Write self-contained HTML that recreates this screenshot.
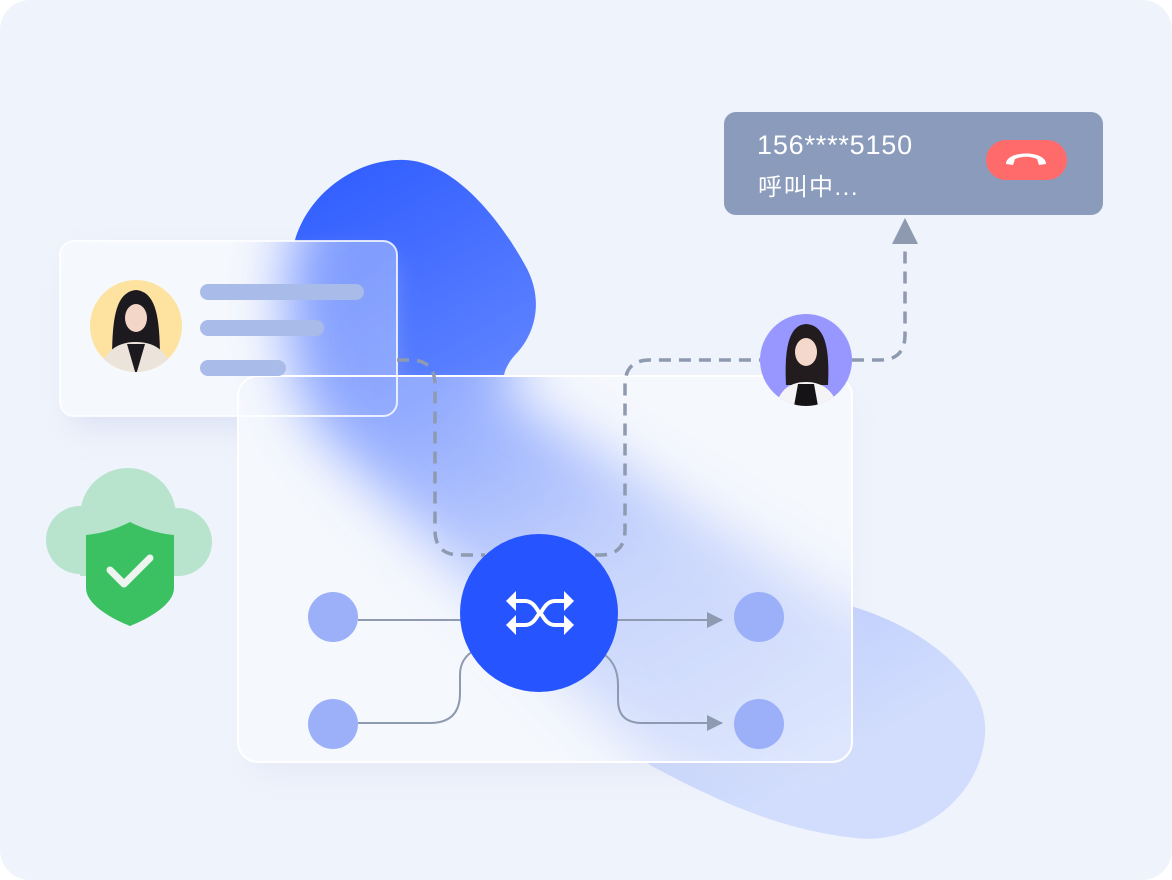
<!DOCTYPE html>
<html><head><meta charset="utf-8"><style>
html,body{margin:0;padding:0;background:#fff;}
svg{display:block;}
text{font-family:"Liberation Sans","Noto Sans CJK SC",sans-serif;}
</style></head><body>
<svg width="1172" height="880" viewBox="0 0 1172 880" xmlns="http://www.w3.org/2000/svg">
<defs>
<linearGradient id="bg1" x1="0" y1="0" x2="0.6" y2="1">
<stop offset="0" stop-color="#2c5aff"/><stop offset="0.35" stop-color="#5b80ff"/><stop offset="0.65" stop-color="#b0c2fc"/><stop offset="1" stop-color="#d2ddfd"/>
</linearGradient>
<filter id="blur" x="-30%" y="-30%" width="160%" height="160%"><feGaussianBlur stdDeviation="28"/></filter>
<filter id="sh" x="-20%" y="-20%" width="140%" height="150%"><feGaussianBlur stdDeviation="14"/></filter>
<clipPath id="cards">
<rect x="238" y="376" width="614" height="386" rx="20"/>
<rect x="60" y="241" width="337" height="175" rx="14"/>
</clipPath>
<path id="blob" d="M295,240 C310,190 360,158 405,160 C455,162 500,220 525,265 C545,300 535,335 515,355 C500,372 498,390 520,405 L840,603 C925,625 990,680 985,735 C980,800 915,845 855,838 C780,830 715,800 650,765 L320,430 C285,380 280,300 295,240 Z"/>
<marker id="ah" markerWidth="16" markerHeight="16" refX="15" refY="8" orient="auto" markerUnits="userSpaceOnUse"><path d="M0,0 L16,8 L0,16 Z" fill="#8d9ab0"/></marker>
</defs>
<rect x="0" y="0" width="1172" height="880" rx="30" fill="#eff3fb"/>
<use href="#blob" fill="url(#bg1)"/>
<rect x="70" y="258" width="320" height="170" rx="14" fill="#c8d2ee" opacity="0.5" filter="url(#sh)"/>
<rect x="250" y="395" width="600" height="380" rx="20" fill="#d6def2" opacity="0.4" filter="url(#sh)"/>
<g clip-path="url(#cards)">
<rect x="0" y="0" width="1172" height="880" fill="#f6f8fd"/>
<use href="#blob" fill="url(#bg1)" filter="url(#blur)" opacity="0.8"/>
<rect x="0" y="0" width="1172" height="880" fill="#f7f9fe" opacity="0.2"/>
</g>
<rect x="238" y="376" width="614" height="386" rx="20" fill="none" stroke="#ffffff" stroke-width="2"/>
<rect x="60" y="241" width="337" height="175" rx="14" fill="none" stroke="#ffffff" stroke-opacity="0.8" stroke-width="2"/>
<circle cx="136" cy="326" r="46" fill="#fde2a0"/>
<clipPath id="av1"><circle cx="136" cy="326" r="46"/></clipPath>
<g clip-path="url(#av1)">
<path d="M112,362 C112,320 115,292 136,290 C157,292 160,320 160,362 Z" fill="#1c1a1f"/>
<ellipse cx="136" cy="318" rx="11" ry="14" fill="#f3d6c8"/>
<path d="M98,375 C104,350 118,342 136,342 C154,342 168,350 174,375 Z" fill="#ece4da"/>
<path d="M127,344 L136,375 L145,344 Z" fill="#1c1a1f"/>
</g>
<rect x="200" y="284" width="164" height="16" rx="8" fill="#a9bbe9"/>
<rect x="200" y="320" width="124" height="16" rx="8" fill="#a9bbe9"/>
<rect x="200" y="360" width="86" height="16" rx="8" fill="#a9bbe9"/>
<g fill="#b8e4cd">
<circle cx="128" cy="516" r="48"/><circle cx="80" cy="540" r="34"/><circle cx="178" cy="542" r="34"/>
<rect x="80" y="540" width="100" height="36"/>
</g>
<path d="M86,535 C105,533 118,528 130,522 C142,528 155,533 174,535 L174,588 C174,604 150,618 130,626 C110,618 86,604 86,588 Z" fill="#3cc162"/>
<path d="M110,570 L124,584 L150,558" fill="none" stroke="#eef5f0" stroke-width="7" stroke-linecap="round" stroke-linejoin="round"/>
<g fill="none" stroke="#8d9ab0" stroke-width="3.5" stroke-dasharray="12 8">
<path d="M397,360 L410,360 Q435,360 435,385 L435,530 Q435,555 460,555 L485,555"/>
<path d="M595,555 L600,555 Q625,555 625,530 L625,385 Q625,360 650,360 L760,360"/>
<path d="M852,360 L880,360 Q905,360 905,335 L905,242"/>
</g>
<path d="M892,244 L905,218 L918,244 Z" fill="#8d9ab0"/>
<g fill="none" stroke="#8d9ab0" stroke-width="2">
<path d="M358,620 L465,620"/>
<path d="M358,723 L430,723 Q460,723 460,693 L460,675 Q460,658 475,650"/>
<path d="M612,620 L722,620" marker-end="url(#ah)"/>
<path d="M605,655 Q618,665 618,685 L618,700 Q618,723 642,723 L722,723" marker-end="url(#ah)"/>
</g>
<circle cx="333" cy="617" r="25" fill="#9bb0f8"/>
<circle cx="333" cy="724" r="25" fill="#9bb0f8"/>
<circle cx="759" cy="617" r="25" fill="#9bb0f8"/>
<circle cx="759" cy="724" r="25" fill="#9bb0f8"/>
<circle cx="539" cy="613" r="79" fill="#2654ff"/>
<g fill="none" stroke="#fff" stroke-width="4">
<path d="M512,601 L525,601 C535,601 538,613 540,613 C542,613 545,601 555,601 L568,601"/>
<path d="M512,625 L525,625 C535,625 538,613 540,613 C542,613 545,625 555,625 L568,625"/>
</g>
<g fill="#fff">
<path d="M506,601 L516,591 L516,611 Z"/><path d="M506,625 L516,615 L516,635 Z"/>
<path d="M574,601 L564,591 L564,611 Z"/><path d="M574,625 L564,615 L564,635 Z"/>
</g>
<circle cx="806" cy="360" r="46" fill="#9896ff"/>
<clipPath id="av2"><circle cx="806" cy="360" r="46"/></clipPath>
<g clip-path="url(#av2)">
<path d="M786,385 C784,345 790,325 806,324 C824,325 830,345 828,385 Z" fill="#221c1e"/>
<ellipse cx="806" cy="352" rx="11" ry="14" fill="#f4d8cc"/>
<path d="M776,406 C780,388 792,382 806,382 C820,382 832,388 838,406 Z" fill="#f4f4f6"/>
<path d="M794,406 L798,384 L814,384 L818,406 Z" fill="#151315"/>
</g>
<rect x="724" y="112" width="379" height="103" rx="12" fill="#8a9bbb"/>
<text x="757" y="154" font-size="27" letter-spacing="0.8" fill="#ffffff">156****5150</text>
<text x="758" y="195" font-size="24" letter-spacing="1.5" fill="#ffffff">呼叫中...</text>
<rect x="986" y="140" width="81" height="40" rx="20" fill="#ff6b6b"/>
<path d="M1006,164 C1006,150 1046,150 1046,164 L1039,165 L1037,159 C1030,156 1022,156 1015,159 L1013,165 Z" fill="#fff"/>
</svg>
</body></html>
